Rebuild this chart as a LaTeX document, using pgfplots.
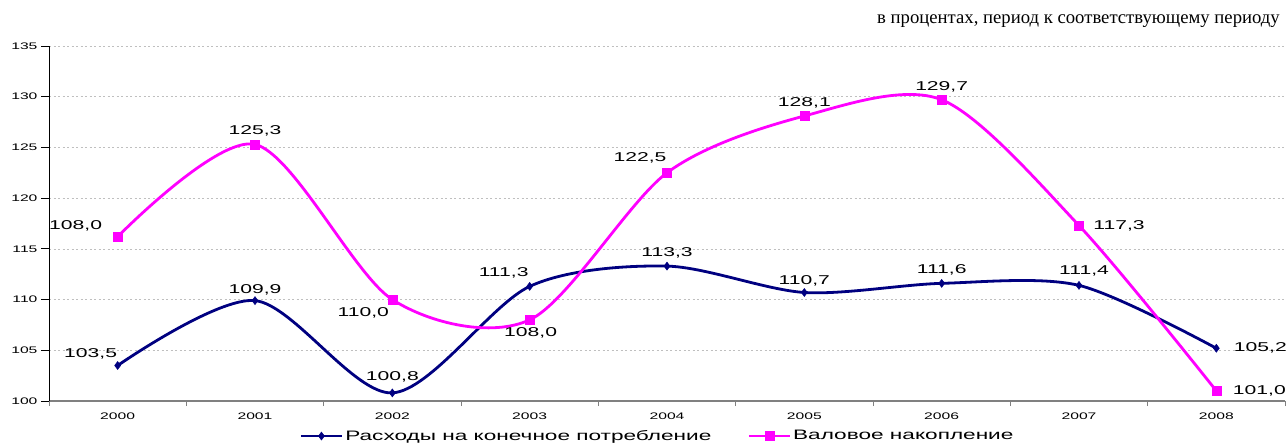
\documentclass[border=0pt]{standalone}
\usepackage{fontspec}
\setmainfont[FakeStretch=1.65]{Liberation Sans}
\newfontfamily\titlefont{Liberation Serif}
\usepackage{pgfplots}
\usepackage{pgfplotstable}
\pgfplotsset{compat=1.18}
\usetikzlibrary{calc}
\definecolor{navyc}{RGB}{0,0,128}
\definecolor{pinkc}{RGB}{255,0,255}

\pgfplotstableread{
x y lab dx dy
0 103.5 103,5 -27 12
1 109.9 109,9 0 11
2 100.8 100,8 0 16
3 111.3 111,3 -26 14
4 113.3 113,3 0 13
5 110.7 110,7 0 12
6 111.6 111,6 0 13
7 111.4 111,4 5 14
8 105.2 105,2 44 0
}\bluedata

\pgfplotstableread{
x y lab dx dy
0 116.2 108,0 -42 11
1 125.3 125,3 0 14
2 110.0 110,0 -29 -13
3 108.0 108,0 1 -13
4 122.5 122,5 -27 15
5 128.1 128,1 0 13
6 129.7 129,7 0 13
7 117.3 117,3 40 0
8 101.0 101,0 43 0
}\pinkdata

\begin{document}
\begin{tikzpicture}
\begin{axis}[
  scale only axis, width=1236pt, height=355pt,
  xmin=-0.5, xmax=8.5, ymin=100, ymax=135,
  xtick={0,...,8}, xticklabels={2000,2001,2002,2003,2004,2005,2006,2007,2008},
  minor xtick={-0.5,0.5,...,8.5},
  ytick={100,105,...,135},
  axis x line*=bottom, axis y line*=left,
  axis line style={-},
  x axis line style={draw=gray, line width=1.4pt},
  y axis line style={draw=black, line width=1pt},
  ymajorgrids,
  grid style={draw=gray!50, dash pattern=on 2pt off 2.5pt, line width=0.6pt},
  major x tick style={draw=none},
  minor x tick style={draw=gray, line width=0.9pt},
  ytick style={draw=black, line width=0.9pt},
  tick align=outside, major tick length=8pt, minor tick length=5pt,
  tick label style={font=\fontsize{9.5}{11}\selectfont},
  /pgf/number format/assume math mode=true,
  clip=false,
  legend columns=2,
  legend style={at={(axis description cs:0.5,0)}, anchor=center, xshift=-9.5pt, yshift=-35pt,
    draw=none, fill=none, font=\fontsize{13.7}{15}\selectfont,
    /tikz/every even column/.append style={column sep=34pt}},
  legend image code/.code={\draw[mark repeat=2,mark phase=2] plot coordinates {(0pt,0pt)(20.5pt,0pt)(41pt,0pt)};},
  nodes near coords,
  point meta=explicit symbolic,
  every node near coord/.append style={anchor=center, xshift=\dx pt, yshift=\dy pt,
    font=\fontsize{12.8}{14}\selectfont, text=black},
  visualization depends on={\thisrow{dx} \as \dx},
  visualization depends on={\thisrow{dy} \as \dy},
]
\addplot[color=navyc, line width=2.8pt, smooth, tension=0.5, mark=diamond*, mark size=4pt,
  mark options={solid, fill=navyc, line width=0.5pt}]
  table[x=x, y=y, meta=lab] {\bluedata};
\addlegendentry{Расходы на конечное потребление}
\addplot[color=pinkc, line width=2.8pt, smooth, tension=0.5, mark=square*, mark size=4.5pt,
  mark options={solid, fill=pinkc, line width=0.5pt}]
  table[x=x, y=y, meta=lab] {\pinkdata};
\addlegendentry{Валовое накопление}
\end{axis}
\node[anchor=base east, font=\titlefont\fontsize{18.7}{21}\selectfont, inner sep=0pt]
  at ($(current axis.north east)+(-5pt,22pt)$) {в процентах, период к соответствующему периоду};
\pgfresetboundingbox
\path[use as bounding box] ($(current axis.south west)+(-49pt,-43pt)$) rectangle ($(current axis.north east)+(2pt,46pt)$);
\end{tikzpicture}
\end{document}
